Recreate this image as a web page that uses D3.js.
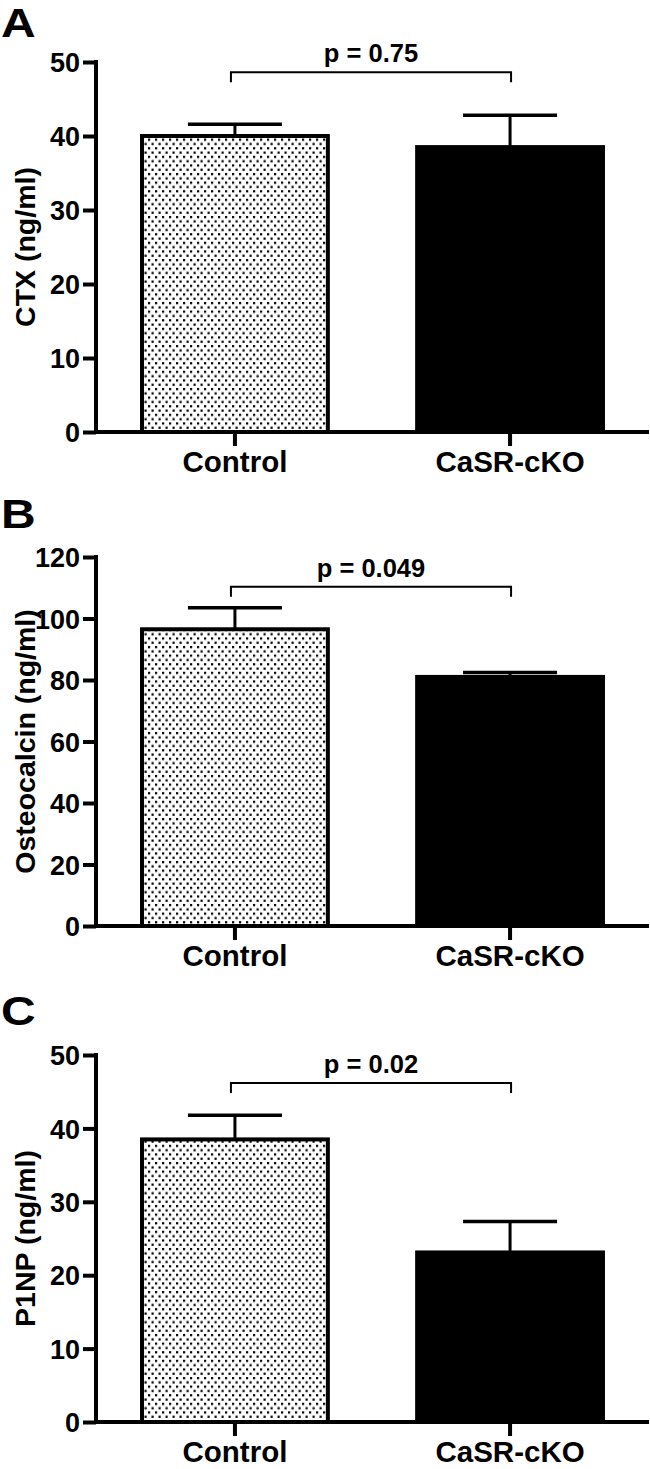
<!DOCTYPE html>
<html><head><meta charset="utf-8">
<script src="https://cdn.jsdelivr.net/npm/d3@7/dist/d3.min.js"></script>
<style>body{margin:0;background:#fff}svg{display:block}text{font-family:"Liberation Sans",Arial,sans-serif;font-weight:bold;fill:#000}</style>
</head><body>
<script>
const categories = ["Control", "CaSR-cKO"];
const panelLetters = ["A", "B", "C"];
const yTitles = ["CTX (ng/ml)", "Osteocalcin (ng/ml)", "P1NP (ng/ml)"];
const ctxMeans = [40.0, 38.5];
const ctxErrors = [1.6, 4.3];
const osteoMeans = [96.5, 81.0];
const osteoErrors = [7.0, 1.4];
const p1npMeans = [38.5, 23.1];
const p1npErrors = [3.3, 4.2];
const ctxTicks = [0, 10, 20, 30, 40, 50];
const osteoTicks = [0, 20, 40, 60, 80, 100, 120];
const p1npTicks = [0, 10, 20, 30, 40, 50];
const pLabels = ["p = 0.75", "p = 0.049", "p = 0.02"];
const bracketLevels = [48.6, 110.3, 46.2];

const panels = [
  {means: ctxMeans, errs: ctxErrors, ticks: ctxTicks, top: 62, zero: 432, letterY: 37},
  {means: osteoMeans, errs: osteoErrors, ticks: osteoTicks, top: 557, zero: 926, letterY: 528},
  {means: p1npMeans, errs: p1npErrors, ticks: p1npTicks, top: 1055, zero: 1422, letterY: 1025}
];

const W = 650, H = 1469;
const FONT = '"Liberation Sans",Arial,sans-serif';
const svg = d3.select("body").append("svg").attr("width", W).attr("height", H);
const defs = svg.append("defs");
const pat = defs.append("pattern").attr("id", "dots").attr("patternUnits", "userSpaceOnUse")
  .attr("width", 7).attr("height", 8.6);
pat.append("rect").attr("width", 7).attr("height", 8.6).attr("fill", "#fff");
pat.append("rect").attr("x", 1).attr("y", 1).attr("width", 2.2).attr("height", 2.2).attr("fill", "#000");
pat.append("rect").attr("x", 4.5).attr("y", 5.3).attr("width", 2.2).attr("height", 2.2).attr("fill", "#000");

const x = d3.scaleBand().domain(categories).range([96, 649]).paddingInner(0.31).paddingOuter(0.16);

panels.forEach((p, i) => {
  const g = svg.append("g");
  const maxV = p.ticks[p.ticks.length - 1];
  const y = d3.scaleLinear().domain([0, maxV]).range([p.zero, p.top]);

  // panel letter
  g.append("text").attr("transform", `translate(1,${p.letterY}) scale(1.2,1)`)
    .attr("font-size", 40).text(panelLetters[i]);

  // y title
  g.append("text").attr("transform", `translate(35,${(p.top + p.zero) / 2}) rotate(-90)`)
    .attr("text-anchor", "middle").attr("font-size", 28.5).text(yTitles[i]);

  const data = categories.map((c, j) => ({c, m: p.means[j], e: p.errs[j], j}));
  // error bars (upper only)
  data.forEach(d => {
    const cx = x(d.c) + x.bandwidth() / 2;
    g.append("line").attr("x1", cx).attr("x2", cx).attr("y1", y(d.m)).attr("y2", y(d.m + d.e))
      .attr("stroke", "#000").attr("stroke-width", 3);
    g.append("line").attr("x1", cx - 47).attr("x2", cx + 47).attr("y1", y(d.m + d.e)).attr("y2", y(d.m + d.e))
      .attr("stroke", "#000").attr("stroke-width", 3.5);
  });
  g.selectAll("rect.bar").data(data).join("rect").attr("class", "bar")
    .attr("x", d => x(d.c) + 2).attr("width", x.bandwidth() - 4)
    .attr("y", d => y(d.m)).attr("height", d => y(0) - y(d.m))
    .attr("fill", d => d.j === 0 ? "url(#dots)" : "#000")
    .attr("stroke", "#000").attr("stroke-width", 4);

  // y axis
  const ya = d3.axisLeft(y).tickValues(p.ticks).tickSize(13).tickPadding(3).tickFormat(d3.format("d"));
  const yg = g.append("g").attr("transform", "translate(96,0)").call(ya);
  yg.select(".domain").remove();
  yg.selectAll(".tick line").attr("stroke", "#000").attr("stroke-width", 4);
  yg.selectAll(".tick text").attr("font-size", 27).attr("font-family", FONT)
    .attr("font-weight", "bold").attr("fill", "#000").attr("dy", "0.36em");
  g.append("line").attr("x1", 96).attr("x2", 96).attr("y1", p.top - 2).attr("y2", p.zero + 2)
    .attr("stroke", "#000").attr("stroke-width", 4);

  // x axis
  const xa = d3.axisBottom(x).tickSize(14).tickPadding(8);
  const xg = g.append("g").attr("transform", `translate(0,${p.zero})`).call(xa);
  xg.select(".domain").remove();
  xg.selectAll(".tick line").attr("stroke", "#000").attr("stroke-width", 4);
  xg.selectAll(".tick text").attr("font-size", 29.5).attr("font-family", FONT)
    .attr("font-weight", "bold").attr("fill", "#000").attr("dy", "0.6em");
  g.append("line").attr("x1", 94).attr("x2", 649).attr("y1", p.zero).attr("y2", p.zero)
    .attr("stroke", "#000").attr("stroke-width", 4);

  // significance bracket
  const bx1 = x(categories[0]) + x.bandwidth() / 2 - 4;
  const bx2 = x(categories[1]) + x.bandwidth() / 2 + 1;
  const by = y(bracketLevels[i]);
  g.append("path").attr("d", `M${bx1},${by + 10}V${by}H${bx2}V${by + 10}`)
    .attr("fill", "none").attr("stroke", "#000").attr("stroke-width", 2);
  g.append("text").attr("x", (bx1 + bx2) / 2).attr("y", by - 10).attr("text-anchor", "middle")
    .attr("font-size", 25.5).text(pLabels[i]);
});
</script>
</body></html>
